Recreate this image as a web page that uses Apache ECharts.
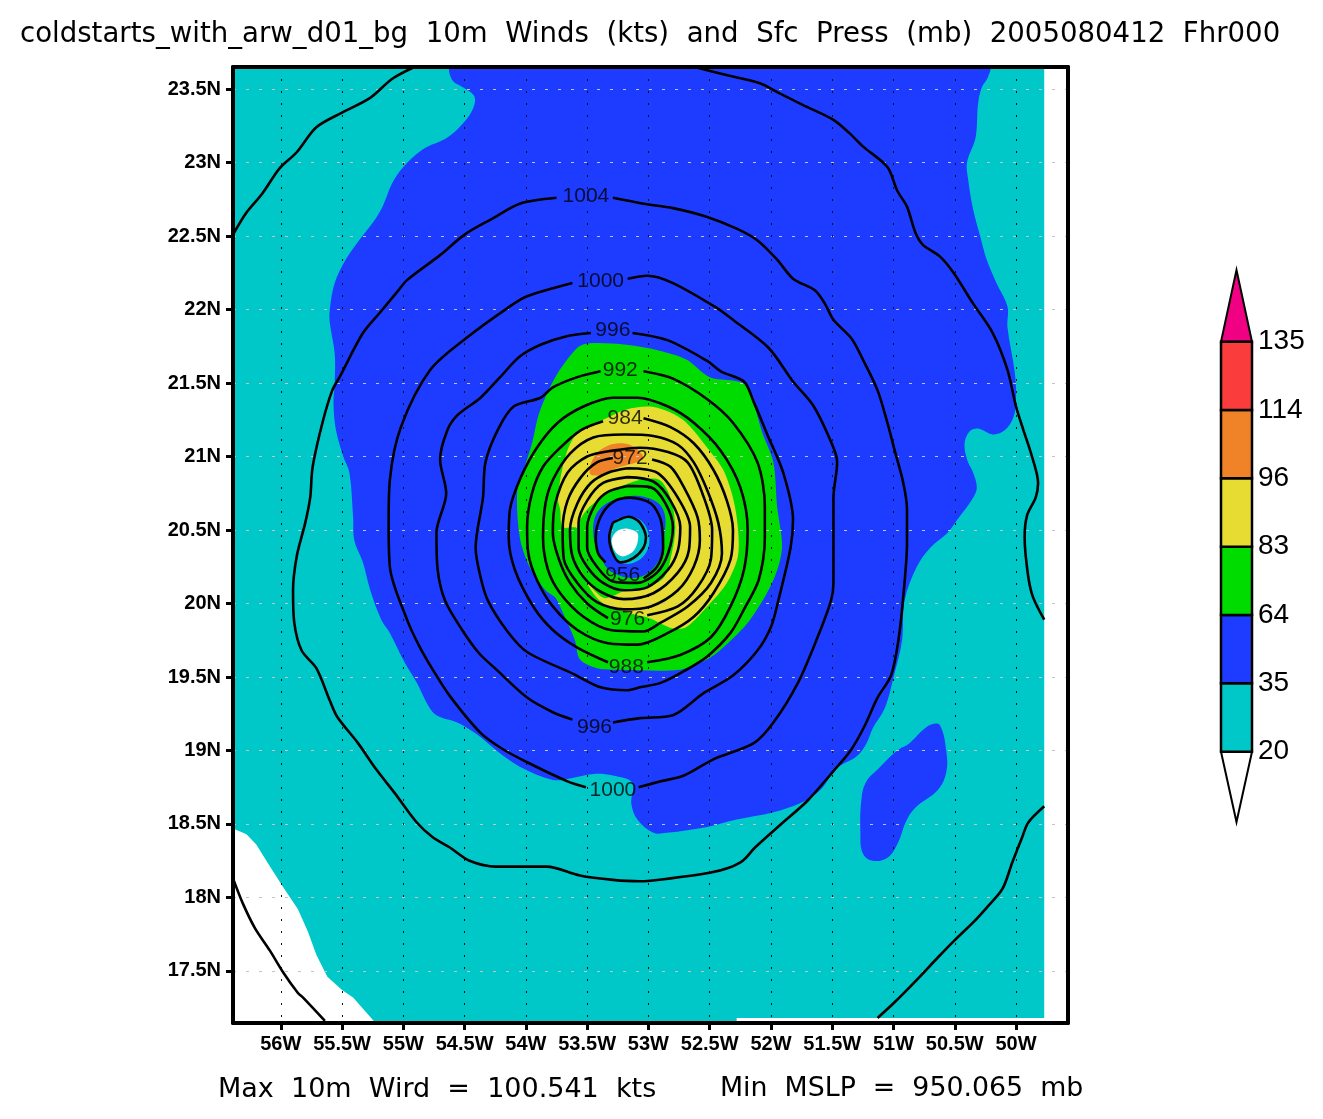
<!DOCTYPE html>
<html>
<head>
<meta charset="utf-8">
<title>10m Winds and Sfc Press</title>
<script src="https://cdn.jsdelivr.net/npm/echarts@6/dist/echarts.min.js"></script>
<style>
html, body { margin: 0; padding: 0; background: #fff; }
#main { width: 1323px; height: 1119px; }
</style>
</head>
<body>
<div id="main"></div>
<script>
// axis ticks
var lonTicks = [-56, -55.5, -55, -54.5, -54, -53.5, -53, -52.5, -52, -51.5, -51, -50.5, -50];
var latTicks = [17.5, 18, 18.5, 19, 19.5, 20, 20.5, 21, 21.5, 22, 22.5, 23, 23.5];

// wind legend
var legendLevels = [20, 35, 64, 83, 96, 114, 135];
var legendColors = ['#00c8c8', '#1e3cff', '#00dc00', '#e6dc32', '#f08228', '#fa3c3c'];
var topArrowColor = '#f00082';
var bottomArrowColor = '#ffffff';

// wind shading, [lon, lat] outlines painted in this order
var fillBase = [[-56.39,23.65],[-49.77,23.65],[-49.77,17.18],[-52.28,17.18],[-52.28,17.15],[-55.23,17.15],[-55.41,17.32],[-55.50,17.37],[-55.62,17.46],[-55.71,17.61],[-55.78,17.77],[-55.86,17.92],[-55.98,18.07],[-56.11,18.24],[-56.20,18.36],[-56.28,18.43],[-56.39,18.47]];
var fillBlue = [[-54.61,23.65],[-54.60,23.56],[-54.51,23.51],[-54.42,23.45],[-54.43,23.37],[-54.50,23.28],[-54.64,23.17],[-54.84,23.09],[-55.00,22.97],[-55.09,22.86],[-55.17,22.70],[-55.25,22.59],[-55.38,22.45],[-55.47,22.34],[-55.56,22.18],[-55.60,22.00],[-55.60,21.91],[-55.56,21.70],[-55.56,21.50],[-55.57,21.36],[-55.55,21.18],[-55.49,21.00],[-55.44,20.89],[-55.41,20.59],[-55.40,20.43],[-55.33,20.28],[-55.27,20.09],[-55.18,19.89],[-55.11,19.80],[-54.99,19.60],[-54.89,19.46],[-54.80,19.31],[-54.73,19.24],[-54.56,19.19],[-54.40,19.11],[-54.24,19.00],[-54.05,18.89],[-53.78,18.80],[-53.64,18.81],[-53.45,18.84],[-53.29,18.83],[-53.13,18.78],[-53.14,18.64],[-53.09,18.53],[-52.96,18.44],[-52.85,18.44],[-52.52,18.48],[-52.28,18.53],[-51.98,18.58],[-51.74,18.65],[-51.60,18.73],[-51.46,18.88],[-51.30,18.96],[-51.22,19.05],[-51.17,19.15],[-51.07,19.29],[-50.99,19.53],[-50.93,19.75],[-50.91,20.02],[-50.81,20.25],[-50.70,20.38],[-50.56,20.48],[-50.48,20.57],[-50.35,20.72],[-50.32,20.79],[-50.35,20.89],[-50.40,20.98],[-50.42,21.09],[-50.38,21.17],[-50.31,21.19],[-50.19,21.15],[-50.09,21.18],[-50.02,21.27],[-50.00,21.40],[-50.01,21.57],[-50.07,21.88],[-50.07,22.02],[-50.16,22.18],[-50.24,22.34],[-50.29,22.49],[-50.35,22.68],[-50.39,22.88],[-50.40,23.00],[-50.33,23.17],[-50.31,23.40],[-50.28,23.51],[-50.23,23.58],[-50.22,23.65]];
var fillBlueIsland = [[-50.68,19.18],[-50.62,19.17],[-50.57,19.00],[-50.57,18.85],[-50.64,18.73],[-50.81,18.62],[-50.89,18.53],[-50.97,18.36],[-51.05,18.27],[-51.17,18.25],[-51.25,18.30],[-51.27,18.44],[-51.26,18.68],[-51.22,18.79],[-51.13,18.87],[-50.97,19.00],[-50.87,19.05],[-50.76,19.14]];
var fillGreen = [[-53.58,21.74],[-53.48,21.77],[-53.18,21.76],[-52.91,21.72],[-52.69,21.66],[-52.50,21.54],[-52.23,21.50],[-52.15,21.38],[-52.07,21.16],[-51.98,20.96],[-51.95,20.66],[-51.91,20.38],[-51.98,20.16],[-52.17,19.89],[-52.39,19.70],[-52.52,19.62],[-52.74,19.55],[-53.23,19.55],[-53.42,19.56],[-53.56,19.62],[-53.60,19.75],[-53.70,19.94],[-53.76,20.04],[-53.84,20.09],[-53.97,20.25],[-54.05,20.45],[-54.07,20.77],[-54.01,20.93],[-53.95,21.09],[-53.89,21.30],[-53.76,21.54]];
var fillYellow = [[-53.74,20.72],[-53.67,21.02],[-53.56,21.18],[-53.37,21.25],[-53.18,21.32],[-52.99,21.34],[-52.82,21.30],[-52.69,21.23],[-52.52,21.06],[-52.39,20.91],[-52.31,20.72],[-52.27,20.52],[-52.27,20.32],[-52.36,20.14],[-52.52,19.98],[-52.69,19.84],[-52.80,19.83],[-52.99,19.90],[-53.18,19.94],[-53.40,20.02],[-53.56,20.25],[-53.58,20.51],[-53.70,20.52],[-53.72,20.64]];
var fillOrange = [[-53.48,20.89],[-53.44,21.00],[-53.34,21.07],[-53.21,21.09],[-53.11,21.06],[-53.04,20.99],[-53.10,20.96],[-53.23,20.93],[-53.35,20.89],[-53.42,20.87]];
var fillInnerGreen = [[-53.58,20.51],[-53.50,20.64],[-53.29,20.77],[-53.07,20.84],[-52.91,20.84],[-52.82,20.72],[-52.78,20.52],[-52.81,20.34],[-52.87,20.18],[-53.01,20.11],[-53.18,20.09],[-53.37,20.04],[-53.56,20.25]];
var fillInnerBlue = [[-53.45,20.48],[-53.40,20.64],[-53.21,20.72],[-53.01,20.72],[-52.88,20.64],[-52.87,20.45],[-52.91,20.30],[-53.07,20.18],[-53.29,20.21],[-53.38,20.30]];
var fillInnerCyan = [[-53.31,20.43],[-53.29,20.55],[-53.18,20.59],[-53.07,20.57],[-53.00,20.48],[-53.01,20.36],[-53.11,20.28],[-53.23,20.28],[-53.30,20.34]];
var fillEye = [[-53.30,20.43],[-53.26,20.49],[-53.18,20.51],[-53.09,20.48],[-53.09,20.41],[-53.13,20.35],[-53.21,20.32],[-53.27,20.35]];

// pressure contours, [lon, lat]
var p952 = [[-53.29,20.55],[-53.16,20.59],[-53.07,20.55],[-53.02,20.45],[-53.04,20.38],[-53.12,20.31],[-53.23,20.28],[-53.29,20.34],[-53.32,20.45],[-53.29,20.55]];
var p956 = [[-53.04,20.17],[-52.93,20.25],[-52.88,20.38],[-52.90,20.57],[-52.98,20.68],[-53.15,20.72],[-53.29,20.69],[-53.39,20.59],[-53.43,20.45],[-53.41,20.34],[-53.35,20.28]];
var p960 = [[-53.17,20.80],[-52.98,20.79],[-52.86,20.68],[-52.80,20.52],[-52.84,20.34],[-52.93,20.21],[-53.09,20.14],[-53.29,20.15],[-53.42,20.25],[-53.50,20.38],[-53.50,20.52],[-53.43,20.68],[-53.33,20.76],[-53.17,20.80]];
var p964 = [[-53.17,20.86],[-52.96,20.83],[-52.82,20.70],[-52.74,20.52],[-52.76,20.36],[-52.84,20.23],[-53.01,20.11],[-53.20,20.09],[-53.37,20.14],[-53.50,20.25],[-53.57,20.38],[-53.57,20.55],[-53.50,20.70],[-53.37,20.82],[-53.17,20.86]];
var p968 = [[-53.17,20.92],[-52.93,20.89],[-52.76,20.72],[-52.66,20.52],[-52.67,20.36],[-52.76,20.21],[-52.96,20.07],[-53.20,20.03],[-53.39,20.08],[-53.53,20.18],[-53.62,20.32],[-53.64,20.50],[-53.58,20.68],[-53.47,20.82],[-53.33,20.89],[-53.17,20.92]];
var p972 = [[-52.97,20.98],[-52.82,20.93],[-52.71,20.79],[-52.60,20.59],[-52.58,20.43],[-52.63,20.25],[-52.76,20.09],[-52.98,19.98],[-53.20,19.96],[-53.42,20.01],[-53.58,20.14],[-53.69,20.30],[-53.70,20.50],[-53.66,20.70],[-53.55,20.86],[-53.42,20.96],[-53.29,20.99]];
var p976 = [[-53.01,19.92],[-52.76,19.98],[-52.60,20.11],[-52.49,20.30],[-52.48,20.50],[-52.56,20.75],[-52.68,20.96],[-52.84,21.03],[-53.07,21.06],[-53.29,21.04],[-53.50,21.00],[-53.66,20.89],[-53.76,20.68],[-53.78,20.48],[-53.73,20.30],[-53.64,20.14],[-53.50,20.00],[-53.33,19.90]];
var p980 = [[-53.20,21.15],[-52.96,21.14],[-52.76,21.08],[-52.63,20.96],[-52.52,20.77],[-52.43,20.55],[-52.40,20.34],[-52.49,20.14],[-52.68,19.98],[-52.90,19.87],[-53.04,19.81],[-53.31,19.82],[-53.53,19.91],[-53.72,20.07],[-53.82,20.23],[-53.86,20.45],[-53.84,20.68],[-53.78,20.84],[-53.64,21.02],[-53.45,21.13],[-53.20,21.15]];
var p984 = [[-53.04,21.26],[-52.82,21.20],[-52.63,21.09],[-52.47,20.91],[-52.36,20.70],[-52.31,20.50],[-52.33,20.30],[-52.47,20.07],[-52.63,19.91],[-52.84,19.80],[-53.09,19.72],[-53.33,19.73],[-53.58,19.82],[-53.78,19.98],[-53.91,20.16],[-53.98,20.34],[-53.99,20.52],[-53.95,20.75],[-53.86,20.93],[-53.72,21.06],[-53.55,21.18],[-53.37,21.24]];
var p988 = [[-53.01,19.60],[-52.74,19.65],[-52.49,19.77],[-52.33,19.98],[-52.22,20.23],[-52.19,20.50],[-52.25,20.79],[-52.41,21.04],[-52.63,21.23],[-52.84,21.34],[-53.09,21.40],[-53.29,21.40],[-53.53,21.34],[-53.74,21.23],[-53.91,21.06],[-54.04,20.86],[-54.13,20.64],[-54.14,20.45],[-54.09,20.23],[-53.94,19.98],[-53.78,19.82],[-53.58,19.70],[-53.33,19.60]];
var p992 = [[-53.04,21.58],[-52.80,21.53],[-52.52,21.39],[-52.31,21.23],[-52.11,20.96],[-52.05,20.66],[-52.05,20.45],[-52.10,20.16],[-52.22,19.96],[-52.33,19.80],[-52.52,19.64],[-52.71,19.54],[-52.90,19.46],[-53.07,19.43],[-53.17,19.41],[-53.39,19.43],[-53.61,19.52],[-53.99,19.67],[-54.15,19.81],[-54.31,20.02],[-54.37,20.18],[-54.41,20.38],[-54.35,20.72],[-54.33,20.96],[-54.23,21.18],[-54.10,21.34],[-53.88,21.40],[-53.78,21.47],[-53.58,21.54],[-53.39,21.58]];
var p996East = [[-53.13,21.84],[-52.84,21.79],[-52.52,21.65],[-52.41,21.58],[-52.22,21.51],[-52.14,21.37],[-52.03,21.15],[-51.90,20.89],[-51.82,20.57],[-51.84,20.38],[-51.94,20.02],[-52.00,19.84],[-52.11,19.68],[-52.31,19.51],[-52.55,19.39],[-52.80,19.24],[-53.07,19.22],[-53.29,19.19]];
var p996West = [[-53.62,19.21],[-53.78,19.26],[-53.99,19.36],[-54.24,19.55],[-54.38,19.66],[-54.52,19.82],[-54.66,20.02],[-54.72,20.23],[-54.73,20.48],[-54.65,20.75],[-54.70,20.98],[-54.64,21.18],[-54.56,21.28],[-54.37,21.40],[-54.21,21.54],[-54.05,21.68],[-53.88,21.76],[-53.66,21.82],[-53.47,21.84]];
var p1000East = [[-53.17,22.21],[-53.01,22.23],[-52.80,22.18],[-52.44,22.01],[-52.31,21.93],[-52.02,21.74],[-51.82,21.51],[-51.65,21.34],[-51.49,21.06],[-51.46,20.96],[-51.49,20.72],[-51.49,20.14],[-51.51,20.02],[-51.62,19.77],[-51.78,19.46],[-51.98,19.19],[-52.14,19.05],[-52.47,18.94],[-52.71,18.83],[-52.90,18.79],[-53.08,18.75]];
var p1000West = [[-53.51,18.75],[-53.66,18.79],[-53.99,18.92],[-54.19,19.01],[-54.37,19.12],[-54.62,19.37],[-54.76,19.55],[-54.87,19.71],[-54.97,19.89],[-55.11,20.25],[-55.12,20.55],[-55.11,20.84],[-55.02,21.20],[-54.78,21.59],[-54.48,21.81],[-54.15,22.01],[-53.99,22.09],[-53.62,22.18]];
var p1004 = [[-53.29,22.76],[-53.04,22.72],[-52.80,22.69],[-52.52,22.63],[-52.28,22.55],[-52.11,22.47],[-51.95,22.34],[-51.82,22.21],[-51.64,22.13],[-51.56,22.04],[-51.49,21.93],[-51.34,21.80],[-51.25,21.66],[-51.13,21.45],[-51.05,21.23],[-50.99,21.04],[-50.92,20.82],[-50.89,20.64],[-50.89,20.41],[-50.92,20.05],[-50.96,19.75],[-51.02,19.51],[-51.13,19.36],[-51.24,19.16],[-51.35,19.00],[-51.49,18.86],[-51.70,18.66],[-51.93,18.49],[-52.13,18.34],[-52.23,18.25],[-52.35,18.20],[-52.49,18.17],[-52.82,18.13],[-53.07,18.11],[-53.29,18.12],[-53.56,18.15],[-53.83,18.21],[-53.99,18.21],[-54.24,18.21],[-54.46,18.25],[-54.62,18.34],[-54.76,18.41],[-54.89,18.51],[-55.07,18.71],[-55.22,18.87],[-55.37,19.05],[-55.54,19.23],[-55.60,19.34],[-55.71,19.56],[-55.83,19.68],[-55.89,19.87],[-55.90,20.09],[-55.87,20.32],[-55.80,20.55],[-55.76,20.72],[-55.74,20.93],[-55.66,21.23],[-55.58,21.45],[-55.52,21.54],[-55.33,21.84],[-55.19,21.98],[-55.04,22.13],[-54.97,22.20],[-54.70,22.37],[-54.50,22.51],[-54.27,22.62],[-54.05,22.72],[-53.75,22.76]];
var p1008NW = [[-56.39,22.51],[-56.28,22.66],[-56.15,22.79],[-56.01,22.96],[-55.87,23.07],[-55.71,23.24],[-55.50,23.34],[-55.27,23.44],[-55.09,23.57],[-54.91,23.65]];
var p1008NE = [[-52.62,23.65],[-52.39,23.60],[-52.09,23.54],[-51.93,23.47],[-51.71,23.38],[-51.49,23.29],[-51.36,23.20],[-51.25,23.11],[-51.05,22.97],[-50.97,22.81],[-50.89,22.70],[-50.82,22.52],[-50.76,22.44],[-50.62,22.36],[-50.51,22.25],[-50.35,22.04],[-50.19,21.84],[-50.07,21.59],[-50.00,21.34],[-49.94,21.18],[-49.87,21.00],[-49.82,20.82],[-49.84,20.72],[-49.91,20.60],[-49.93,20.45],[-49.90,20.18],[-49.86,20.04],[-49.77,19.89]];
var p1008SE = [[-51.13,17.18],[-51.00,17.28],[-50.81,17.44],[-50.64,17.59],[-50.50,17.71],[-50.35,17.83],[-50.23,17.94],[-50.11,18.06],[-50.03,18.24],[-49.95,18.41],[-49.90,18.51],[-49.77,18.62]];
var p1008SW = [[-56.39,18.13],[-56.31,17.96],[-56.21,17.79],[-56.09,17.64],[-55.98,17.49],[-55.86,17.35],[-55.82,17.32],[-55.64,17.16]];

// contour labels
var contourLabelText = ['1004', '1000', '996', '992', '984', '972', '956', '976', '988', '996', '1000'];
var contourLabelLon = [-53.51, -53.39, -53.29, -53.23, -53.19, -53.15, -53.21, -53.17, -53.18, -53.44, -53.29];
var contourLabelLat = [22.77, 22.19, 21.86, 21.59, 21.26, 20.99, 20.19, 19.89, 19.57, 19.16, 18.73];

var LON_MIN = -56.39, LON_MAX = -49.576, LAT_MIN = 17.146, LAT_MAX = 23.65;
var LABEL_FONT = '"Liberation Sans", Arial, sans-serif';
var TITLE_FONT = '"DejaVu Sans", sans-serif';

var myChart = echarts.init(document.getElementById('main'), null, { renderer: 'canvas' });

function fillSeries(points, color, smooth) {
    return {
        type: 'custom',
        xAxisIndex: 0,
        yAxisIndex: 0,
        z: 1,
        silent: true,
        animation: false,
        clip: true,
        data: [[points[0][0], points[0][1]]],
        renderItem: function(params, api) {
            var pts = [];
            for (var i = 0; i < points.length; i++) {
                pts.push(api.coord(points[i]));
            }
            return { type: 'polygon', shape: { points: pts, smooth: smooth }, style: { fill: color } };
        }
    };
}

function contourSeries(points) {
    return {
        type: 'line',
        xAxisIndex: 0,
        yAxisIndex: 0,
        z: 4,
        silent: true,
        animation: false,
        showSymbol: false,
        symbol: 'none',
        smooth: 0.3,
        clip: true,
        lineStyle: { color: '#000', width: 2.6, join: 'round' },
        data: points
    };
}

function legendSeries() {
    var bands = [];
    for (var i = 0; i < legendColors.length; i++) {
        bands.push([i]);
    }
    return {
        type: 'custom',
        xAxisIndex: 2,
        yAxisIndex: 2,
        z: 2,
        silent: true,
        animation: false,
        clip: false,
        data: bands,
        renderItem: function(params, api) {
            var i = api.value(0);
            var a = api.coord([0, i]), b = api.coord([1, i + 1]);
            return {
                type: 'rect',
                shape: { x: a[0], y: b[1], width: b[0] - a[0], height: a[1] - b[1] },
                style: { fill: legendColors[i], stroke: '#000', lineWidth: 2.5 }
            };
        }
    };
}

function arrowSeries(band, tipBand, color) {
    return {
        type: 'custom',
        xAxisIndex: 2,
        yAxisIndex: 2,
        z: 1,
        silent: true,
        animation: false,
        clip: false,
        data: [[band]],
        renderItem: function(params, api) {
            return {
                type: 'polygon',
                shape: { points: [api.coord([0, band]), api.coord([1, band]), api.coord([0.5, tipBand])] },
                style: { fill: color, stroke: '#000', lineWidth: 2 }
            };
        }
    };
}

var seriesList = [
    fillSeries(fillBase, legendColors[0], 0),
    fillSeries(fillBlue, legendColors[1], 0.35),
    fillSeries(fillBlueIsland, legendColors[1], 0.4),
    fillSeries(fillGreen, legendColors[2], 0.3),
    fillSeries(fillYellow, legendColors[3], 0.3),
    fillSeries(fillOrange, legendColors[4], 0.4),
    fillSeries(fillInnerGreen, legendColors[2], 0.3),
    fillSeries(fillInnerBlue, legendColors[1], 0.4),
    fillSeries(fillInnerCyan, legendColors[0], 0.4),
    fillSeries(fillEye, '#ffffff', 0.3)
];
var contours = [p952, p956, p960, p964, p968, p972, p976, p980, p984, p988, p992, p996East, p996West,
    p1000East, p1000West, p1004, p1008NW, p1008NE, p1008SE, p1008SW];
for (var c = 0; c < contours.length; c++) {
    seriesList.push(contourSeries(contours[c]));
}
var labelData = [];
for (var n = 0; n < contourLabelText.length; n++) {
    labelData.push({ value: [contourLabelLon[n], contourLabelLat[n]], name: contourLabelText[n] });
}
seriesList.push({
    type: 'scatter',
    xAxisIndex: 0,
    yAxisIndex: 0,
    z: 5,
    silent: true,
    animation: false,
    symbolSize: 0,
    data: labelData,
    label: {
        show: true,
        position: 'inside',
        formatter: '{b}',
        color: '#000',
        fontFamily: LABEL_FONT,
        fontSize: 21
    }
});
seriesList.push(legendSeries());
seriesList.push(arrowSeries(6, 7.05, topArrowColor));
seriesList.push(arrowSeries(0, -1.03, bottomArrowColor));

var option = {
    backgroundColor: '#ffffff',
    animation: false,
    title: [
        { text: 'coldstarts_with_arw_d01_bg  10m  Winds  (kts)  and  Sfc  Press  (mb)  2005080412  Fhr000', left: 15, top: 16,
          textStyle: { fontFamily: TITLE_FONT, fontWeight: 'normal', fontSize: 27.6, color: '#000' } },
        { text: 'Max  10m  Wird  =  100.541  kts', left: 213, top: 1071,
          textStyle: { fontFamily: TITLE_FONT, fontWeight: 'normal', fontSize: 27, color: '#000' } },
        { text: 'Min  MSLP  =  950.065  mb', left: 715, top: 1071,
          textStyle: { fontFamily: TITLE_FONT, fontWeight: 'normal', fontSize: 26.8, color: '#000' } }
    ],
    grid: [
        { left: 233, top: 67, width: 835, height: 956, show: false },
        { left: 1221, top: 270, width: 31, height: 552, show: false }
    ],
    xAxis: [
        {
            type: 'value', gridIndex: 0, position: 'bottom', min: LON_MIN, max: LON_MAX, z: 3,
            axisLine: { show: true, onZero: false, lineStyle: { color: '#000', width: 4 } },
            axisTick: { show: true, customValues: lonTicks, length: 7, lineStyle: { color: '#000', width: 3 } },
            axisLabel: {
                show: true, customValues: lonTicks, margin: 11, color: '#000', fontFamily: LABEL_FONT,
                fontWeight: 'bold', fontSize: 20,
                formatter: function(v) { return Math.abs(v) + 'W'; }
            },
            splitLine: { show: true, lineStyle: { color: '#111', width: 1, type: [2, 10] } }
        },
        {
            type: 'value', gridIndex: 0, position: 'top', min: LON_MIN, max: LON_MAX, z: 6,
            axisLine: { show: true, onZero: false, lineStyle: { color: '#000', width: 4 } },
            axisTick: { show: false }, axisLabel: { show: false }, splitLine: { show: false }
        },
        {
            type: 'value', gridIndex: 1, min: 0, max: 1, show: false
        }
    ],
    yAxis: [
        {
            type: 'value', gridIndex: 0, position: 'left', min: LAT_MIN, max: LAT_MAX, z: 3,
            axisLine: { show: true, onZero: false, lineStyle: { color: '#000', width: 4 } },
            axisTick: { show: true, customValues: latTicks, length: 7, lineStyle: { color: '#000', width: 3 } },
            axisLabel: {
                show: true, customValues: latTicks, margin: 12, color: '#000', fontFamily: LABEL_FONT,
                fontWeight: 'bold', fontSize: 20,
                formatter: function(v) { return v + 'N'; }
            },
            splitLine: { show: true, lineStyle: { color: '#c4c4c4', width: 1, type: [3, 10] } }
        },
        {
            type: 'value', gridIndex: 0, position: 'right', min: LAT_MIN, max: LAT_MAX, z: 6,
            axisLine: { show: true, onZero: false, lineStyle: { color: '#000', width: 4 } },
            axisTick: { show: false }, axisLabel: { show: false }, splitLine: { show: false }
        },
        {
            type: 'value', gridIndex: 1, position: 'right', min: -1.03, max: 7.05,
            axisLine: { show: false }, axisTick: { show: false }, splitLine: { show: false },
            axisLabel: {
                show: true, customValues: [0, 1, 2, 3, 4, 5, 6], margin: 6, color: '#000',
                fontFamily: LABEL_FONT, fontSize: 28,
                formatter: function(v) { return String(legendLevels[v]); }
            }
        }
    ],
    series: seriesList
};
myChart.setOption(option);
</script>
</body>
</html>
